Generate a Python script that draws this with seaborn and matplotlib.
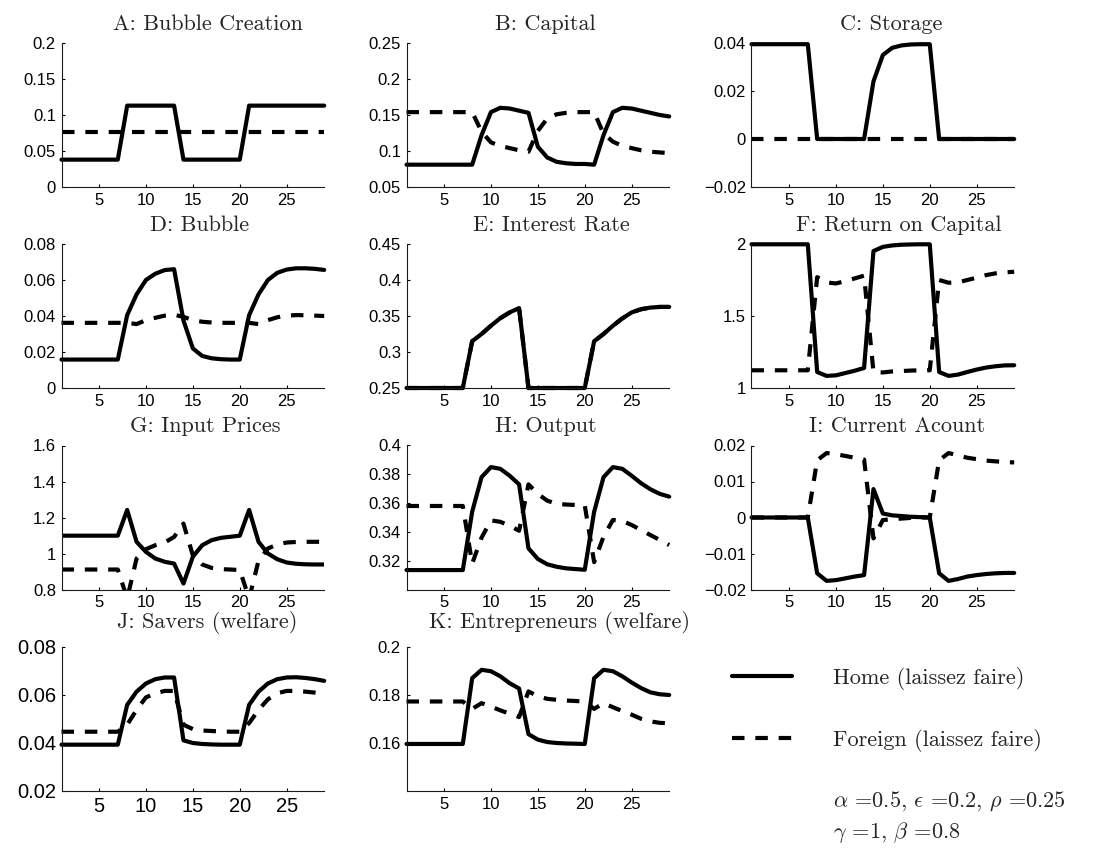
import matplotlib
matplotlib.use("Agg")
import matplotlib.pyplot as plt
import seaborn as sns
from matplotlib.ticker import FuncFormatter, FixedLocator

# ---------------------------------------------------------------- data
periods = list(range(1, 30))

bubble_creation_home = [0.038, 0.038, 0.038, 0.038, 0.038, 0.038, 0.038,
                        0.113, 0.113, 0.113, 0.113, 0.113, 0.113,
                        0.038, 0.038, 0.038, 0.038, 0.038, 0.038, 0.038,
                        0.113, 0.113, 0.113, 0.113, 0.113, 0.113, 0.113, 0.113, 0.113]
bubble_creation_foreign = [0.076, 0.076, 0.076, 0.076, 0.076, 0.076, 0.076, 0.076,
                           0.076, 0.076, 0.076, 0.076, 0.076, 0.076, 0.076, 0.076,
                           0.076, 0.076, 0.076, 0.076, 0.076, 0.076, 0.076, 0.076,
                           0.076, 0.076, 0.076, 0.076, 0.076]

capital_home = [0.081, 0.081, 0.081, 0.081, 0.081, 0.081, 0.081, 0.081,
                0.122, 0.154, 0.160, 0.159, 0.156, 0.153,
                0.106, 0.091, 0.085, 0.083, 0.082, 0.082, 0.081,
                0.122, 0.154, 0.160, 0.159, 0.156, 0.153, 0.150, 0.148]
capital_foreign = [0.154, 0.154, 0.154, 0.154, 0.154, 0.154, 0.154, 0.154,
                   0.127, 0.112, 0.107, 0.104, 0.101, 0.099,
                   0.128, 0.145, 0.151, 0.153, 0.154, 0.154, 0.154,
                   0.124, 0.113, 0.107, 0.104, 0.101, 0.099, 0.098, 0.097]

storage_home = [0.0395, 0.0395, 0.0395, 0.0395, 0.0395, 0.0395, 0.0395,
                0.0, 0.0, 0.0, 0.0, 0.0, 0.0,
                0.024, 0.035, 0.038, 0.039, 0.0394, 0.0395, 0.0395,
                0.0, 0.0, 0.0, 0.0, 0.0, 0.0, 0.0, 0.0, 0.0]
storage_foreign = [0.0, 0.0, 0.0, 0.0, 0.0, 0.0, 0.0, 0.0, 0.0, 0.0,
                   0.0, 0.0, 0.0, 0.0, 0.0, 0.0, 0.0, 0.0, 0.0, 0.0,
                   0.0, 0.0, 0.0, 0.0, 0.0, 0.0, 0.0, 0.0, 0.0]

bubble_home = [0.0158, 0.0158, 0.0158, 0.0158, 0.0158, 0.0158, 0.0158,
               0.0405, 0.052, 0.060, 0.0635, 0.0655, 0.066,
               0.0375, 0.022, 0.0178, 0.0165, 0.016, 0.0158, 0.0158,
               0.0405, 0.052, 0.060, 0.064, 0.0658, 0.0665, 0.0665, 0.0662, 0.0656]
bubble_foreign = [0.0362, 0.0362, 0.0362, 0.0362, 0.0362, 0.0362, 0.0362, 0.0362,
                  0.0355, 0.0377, 0.039, 0.0402, 0.0407,
                  0.0395, 0.0377, 0.0368, 0.0364, 0.0362, 0.0362, 0.0362, 0.0362,
                  0.0355, 0.0377, 0.0393, 0.0402, 0.0405, 0.0404, 0.0402, 0.040]

interest_home = [0.25, 0.25, 0.25, 0.25, 0.25, 0.25, 0.25,
                 0.315, 0.325, 0.3365, 0.347, 0.355, 0.361,
                 0.25, 0.25, 0.25, 0.25, 0.25, 0.25, 0.25,
                 0.315, 0.325, 0.3365, 0.3466, 0.355, 0.3594, 0.3617, 0.3626, 0.3626]
# the interest rate is a world rate: both countries share it
interest_foreign = list(interest_home)

return_home = [1.998, 1.998, 1.998, 1.998, 1.998, 1.998, 1.998,
               1.111, 1.084, 1.088, 1.104, 1.120, 1.139,
               1.951, 1.980, 1.990, 1.995, 1.997, 1.998, 1.998,
               1.111, 1.084, 1.093, 1.111, 1.128, 1.142, 1.151, 1.157, 1.158]
return_foreign = [1.123, 1.123, 1.123, 1.123, 1.123, 1.123, 1.123,
                  1.770, 1.733, 1.726, 1.742, 1.761, 1.780,
                  1.111, 1.108, 1.115, 1.118, 1.121, 1.123, 1.123,
                  1.750, 1.731, 1.733, 1.750, 1.766, 1.784, 1.796, 1.803, 1.807]

input_home = [1.099, 1.099, 1.099, 1.099, 1.099, 1.099, 1.099,
              1.242, 1.065, 1.009, 0.972, 0.954, 0.944,
              0.833, 0.982, 1.046, 1.074, 1.087, 1.093, 1.099,
              1.242, 1.065, 1.000, 0.968, 0.950, 0.943, 0.940, 0.939, 0.939]
input_foreign = [0.911, 0.911, 0.911, 0.911, 0.911, 0.911, 0.911,
                 0.750, 0.972, 1.024, 1.046, 1.061, 1.092,
                 1.166, 0.990, 0.939, 0.920, 0.913, 0.911, 0.908,
                 0.750, 0.960, 1.028, 1.050, 1.061, 1.064, 1.065, 1.065, 1.065]

output_home = [0.3135, 0.3135, 0.3135, 0.3135, 0.3135, 0.3135, 0.3135,
               0.354, 0.378, 0.385, 0.3838, 0.379, 0.373,
               0.3286, 0.3212, 0.3175, 0.3158, 0.3147, 0.3142, 0.3137,
               0.354, 0.378, 0.385, 0.3838, 0.379, 0.3738, 0.3696, 0.3664, 0.3645]
output_foreign = [0.358, 0.358, 0.358, 0.358, 0.358, 0.358, 0.358,
                  0.318, 0.336, 0.348, 0.347, 0.3443, 0.3408,
                  0.373, 0.3664, 0.3617, 0.3594, 0.359, 0.3587, 0.3584,
                  0.319, 0.3367, 0.3483, 0.3476, 0.3448, 0.3413, 0.3378, 0.3344, 0.3309]

current_home = [0.0, 0.0, 0.0, 0.0, 0.0, 0.0, 0.0,
                -0.0155, -0.0176, -0.0174, -0.0169, -0.0164, -0.0160,
                0.0079, 0.0011, 0.0006, 0.0004, 0.0002, 0.0001, 0.0,
                -0.0155, -0.0176, -0.0171, -0.0164, -0.0160, -0.0157, -0.0155, -0.0154, -0.0154]
current_foreign = [0.0, 0.0, 0.0, 0.0, 0.0, 0.0, 0.0,
                   0.0159, 0.0179, 0.0176, 0.0171, 0.0166, 0.0161,
                   -0.0058, -0.0007, -0.0005, -0.0003, -0.0001, 0.0, 0.0,
                   0.0159, 0.0179, 0.0173, 0.0166, 0.0162, 0.0158, 0.0156, 0.0154, 0.0153]

savers_home = [0.0393, 0.0393, 0.0393, 0.0393, 0.0393, 0.0393, 0.0393,
               0.0559, 0.0614, 0.0648, 0.0666, 0.0673, 0.0673,
               0.0411, 0.0400, 0.0396, 0.0394, 0.0393, 0.0393, 0.0393,
               0.0559, 0.0614, 0.0648, 0.0666, 0.0673, 0.0674, 0.0671, 0.0666, 0.0659]
savers_foreign = [0.0447, 0.0447, 0.0447, 0.0447, 0.0447, 0.0447, 0.0447,
                  0.0476, 0.0538, 0.0590, 0.0607, 0.0617, 0.0617,
                  0.0476, 0.0458, 0.0452, 0.0450, 0.0448, 0.0447, 0.0447,
                  0.0483, 0.0538, 0.0582, 0.0607, 0.0617, 0.0617, 0.0614, 0.0610, 0.0604]

entrepreneurs_home = [0.1596, 0.1596, 0.1596, 0.1596, 0.1596, 0.1596, 0.1596,
                      0.187, 0.1905, 0.1899, 0.1878, 0.1849, 0.1827,
                      0.1637, 0.1614, 0.1604, 0.1600, 0.1598, 0.1597, 0.1596,
                      0.187, 0.1905, 0.1899, 0.1878, 0.1852, 0.1829, 0.1811, 0.1803, 0.1800]
entrepreneurs_foreign = [0.1773, 0.1773, 0.1773, 0.1773, 0.1773, 0.1773, 0.1773,
                         0.1742, 0.1766, 0.1752, 0.1736, 0.1722, 0.1708,
                         0.1815, 0.1795, 0.1784, 0.1780, 0.1777, 0.1775, 0.1773,
                         0.1742, 0.1766, 0.1749, 0.1733, 0.1718, 0.1701, 0.1690, 0.1684, 0.1682]

titles = ["A: Bubble Creation", "B: Capital", "C: Storage",
          "D: Bubble", "E: Interest Rate", "F: Return on Capital",
          "G: Input Prices", "H: Output", "I: Current Acount",
          "J: Savers (welfare)", "K: Entrepreneurs (welfare)"]

y_limits = [(0, 0.2), (0.05, 0.25), (-0.02, 0.04),
            (0, 0.08), (0.25, 0.45), (1, 2),
            (0.8, 1.6), (0.30, 0.40), (-0.02, 0.02),
            (0.02, 0.08), (0.14, 0.20)]
y_ticks = [[0, 0.05, 0.1, 0.15, 0.2], [0.05, 0.1, 0.15, 0.2, 0.25], [-0.02, 0, 0.02, 0.04],
           [0, 0.02, 0.04, 0.06, 0.08], [0.25, 0.3, 0.35, 0.4, 0.45], [1, 1.5, 2],
           [0.8, 1, 1.2, 1.4, 1.6], [0.32, 0.34, 0.36, 0.38, 0.4], [-0.02, -0.01, 0, 0.01, 0.02],
           [0.02, 0.04, 0.06, 0.08], [0.16, 0.18, 0.2]]
x_ticks = [5, 10, 15, 20, 25]

home_series = [bubble_creation_home, capital_home, storage_home,
               bubble_home, interest_home, return_home,
               input_home, output_home, current_home,
               savers_home, entrepreneurs_home]
foreign_series = [bubble_creation_foreign, capital_foreign, storage_foreign,
                  bubble_foreign, interest_foreign, return_foreign,
                  input_foreign, output_foreign, current_foreign,
                  savers_foreign, entrepreneurs_foreign]

legend_labels = ["Home (laissez faire)", "Foreign (laissez faire)"]
parameter_lines = [r"$\alpha$ =0.5, $\epsilon$ =0.2, $\rho$ =0.25",
                   r"$\gamma$ =1, $\beta$ =0.8"]

# ---------------------------------------------------------------- style
sns.set_theme(style="ticks")
plt.rcParams.update({
    "font.family": ["Liberation Sans", "DejaVu Sans"],
    "mathtext.fontset": "cm",
    "axes.linewidth": 0.8,
    "axes.edgecolor": "#1a1a1a",
    "xtick.direction": "in",
    "ytick.direction": "in",
    "xtick.major.size": 2.5,
    "ytick.major.size": 2.5,
    "xtick.major.width": 0.8,
    "ytick.major.width": 0.8,
    "xtick.color": "black",
    "ytick.color": "black",
    "xtick.labelsize": 12,
    "ytick.labelsize": 12,
    "axes.facecolor": "white",
    "figure.facecolor": "white",
})

W, H = 1113, 856
fig = plt.figure(figsize=(W / 100, H / 100), dpi=100)

col_left = [61.5, 406.5, 751.5]
row_top = [43, 244, 445.5, 647]
ax_w, ax_h = 262.7, 144
title_x = [0.557, 0.529, 0.533, 0.525, 0.552, 0.559, 0.548, 0.529, 0.555, 0.556, 0.582]
serif_size = 16

fmt = FuncFormatter(lambda v, p: f"{v:g}".replace("-", "\u2212"))

axes = []
for i, title in enumerate(titles):
    r, c = divmod(i, 3)
    rect = [col_left[c] / W, 1 - (row_top[r] + ax_h) / H, ax_w / W, ax_h / H]
    ax = fig.add_axes(rect)
    axes.append(ax)
    clip = (i == 6)  # input prices leave the visible range
    sns.lineplot(x=periods, y=home_series[i], ax=ax, color="black", lw=3,
                 errorbar=None, clip_on=clip)
    sns.lineplot(x=periods, y=foreign_series[i], ax=ax, color="black", lw=3,
                 errorbar=None, clip_on=clip, linestyle=(0, (3.0, 2.6)),
                 dash_capstyle="butt")
    ax.set_xlim(1, 29)
    ax.set_ylim(*y_limits[i])
    ax.xaxis.set_major_locator(FixedLocator(x_ticks))
    ax.yaxis.set_major_locator(FixedLocator(y_ticks[i]))
    ax.yaxis.set_major_formatter(fmt)
    ax.xaxis.set_major_formatter(fmt)
    ax.spines[["top", "right"]].set_visible(False)
    ax.tick_params(axis="both", pad=4)
    if i == 9:
        ax.tick_params(axis="both", labelsize=14.5)
    ax.set_xlabel("")
    ax.set_ylabel("")
    gap = 13.5 if r == 3 else 9.5
    ax.annotate(title, xy=(title_x[i], 1), xycoords="axes fraction",
                xytext=(0, gap), textcoords="offset points",
                ha="center", va="baseline", fontfamily="cmr10", fontsize=serif_size)

# legend with the home / foreign line styles
h_line, f_line = axes[0].lines[0], axes[0].lines[1]
fig.legend([h_line, f_line], legend_labels, loc="upper left",
           bbox_to_anchor=(732 / W, 1 - 667 / H), frameon=False,
           borderpad=0, borderaxespad=0, handlelength=2.7, handletextpad=1.85,
           labelspacing=1.75, prop={"family": "cmr10", "size": serif_size})

fig.text(833 / W, 1 - 807 / H, parameter_lines[0], family="cmr10", fontsize=serif_size,
         va="baseline", ha="left")
fig.text(833 / W, 1 - 838 / H, parameter_lines[1], family="cmr10", fontsize=serif_size,
         va="baseline", ha="left")

fig.savefig("out.png", dpi=100)
